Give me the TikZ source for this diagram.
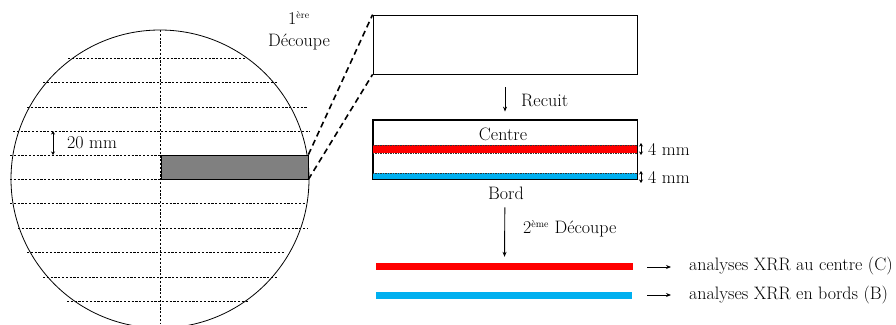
\documentclass[tikz,border=0pt]{standalone}
\usepackage{fontspec}
\usetikzlibrary{arrows.meta}
\definecolor{bandred}{RGB}{255,0,0}
\definecolor{bandblue}{RGB}{0,176,240}
\definecolor{stripgrey}{RGB}{128,128,128}
\tikzset{
  txt/.style={font=\fontsize{18}{21}\selectfont, inner sep=0pt},
  cutline/.style={dashed, dash pattern=on 2.2pt off 1.6pt, line width=0.7pt},
  bigdash/.style={line width=1.6pt, dash pattern=on 6pt off 4pt},
  plainbox/.style={draw, line width=0.8pt, inner sep=0pt},
  arr/.style={-{Stealth[length=5pt,width=4pt]}, line width=0.9pt},
  darr/.style={{Stealth[length=3.5pt,width=4pt]}-{Stealth[length=3.5pt,width=4pt]}, line width=1pt},
  bandline/.style={draw=black!80, line width=0.5pt, dash pattern=on 1.5pt off 1pt}
}
\begin{document}
\begin{tikzpicture}[x=1pt,y=-1pt]
\useasboundingbox (0,0) rectangle (896,324);
% wafer
\node[draw, circle, line width=0.8pt, minimum size=298pt, inner sep=0pt] (wafer) at (160,179) {};
% vertical cut line
\coordinate (vtop) at (160.5,30);
\coordinate (vbot) at (160.5,324);
\draw[cutline] (vtop) -- (vbot);
% horizontal cut lines
\foreach \y/\a/\b in {58/68/245, 82/43/277, 107/27/308, 131/13/310, 155/10/161, 179/10/310, 203/10/306, 228/18/308, 252/27/285, 277/43/278, 301/67/248}{
  \coordinate (l\y) at (\a,\y);
  \coordinate (r\y) at (\b,\y);
  \draw[cutline] (l\y) -- (r\y);
}
% strip
\node[draw, fill=stripgrey, line width=0.8pt, minimum width=147pt, minimum height=24pt, inner sep=0pt] (strip) at (234.5,167) {};
% 20 mm
\coordinate (m1) at (53,131);
\coordinate (m2) at (53,155);
\draw[darr] (m1) -- (m2);
\node[txt, anchor=west] (mm20) at (67,143) {20 mm};
% first cut label
\node[txt, align=center] (cut1) at (299,31) {1\textsuperscript{\fontsize{10}{11}\selectfont ère}\\[1pt]Découpe};
% box 1
\node[plainbox, minimum width=264pt, minimum height=59pt] (box1) at (505,44.5) {};
\draw[bigdash] (strip.north east) -- (box1.north west);
\draw[bigdash] (strip.south east) -- (box1.south west);
% recuit arrow
\node[plainbox, minimum width=264pt, minimum height=59pt] (box2) at (505,149.5) {};
\draw[arr, shorten <=13pt, shorten >=8pt] (box1.south) -- (box2.north);
\node[txt, anchor=west] (recuit) at (521,100) {Recuit};
% bands
\node[fill=bandred, minimum width=264pt, minimum height=8pt, inner sep=0pt] (redband) at (505,149) {};
\draw[bandline] (redband.north west) -- (redband.north east);
\draw[bandline] (redband.south west) -- (redband.south east);
\node[fill=bandblue, minimum width=264pt, minimum height=6pt, inner sep=0pt] (blueband) at (505,176) {};
\draw[bandline] (blueband.north west) -- (blueband.north east);
\draw[line width=0.7pt] (box2.north west) rectangle (box2.south east);
\node[txt] (centre) at (503,134) {Centre};
\node[txt] (bord) at (506,193) {Bord};
% 4 mm arrows
\coordinate (a1) at (641,143);
\coordinate (a2) at (641,155);
\coordinate (a3) at (641,171);
\coordinate (a4) at (641,183);
\draw[darr] (a1) -- (a2);
\draw[darr] (a3) -- (a4);
\node[txt, anchor=west] (mm4a) at (648,149) {4 mm};
\node[txt, anchor=west] (mm4b) at (648,177) {4 mm};
% bars
\node[fill=bandred, minimum width=257pt, minimum height=7pt, inner sep=0pt] (barC) at (504.5,266.5) {};
\node[fill=bandblue, minimum width=256pt, minimum height=7pt, inner sep=0pt] (barB) at (504,295.5) {};
\draw[arr, shorten <=28pt, shorten >=6pt] (box2.south) -- (barC.north);
\node[txt, anchor=west] (cut2) at (523,229) {2\textsuperscript{\fontsize{10}{11}\selectfont ème} Découpe};
% result arrows
\coordinate (c1) at (647,267);
\coordinate (c2) at (671,267);
\coordinate (b1) at (647,295);
\coordinate (b2) at (671,295);
\draw[arr] (c1) -- (c2);
\draw[arr] (b1) -- (b2);
\node[txt, anchor=west] (resC) at (689,266) {analyses XRR au centre (C)};
\node[txt, anchor=west] (resB) at (689,295) {analyses XRR en bords (B)};
\end{tikzpicture}
\end{document}
